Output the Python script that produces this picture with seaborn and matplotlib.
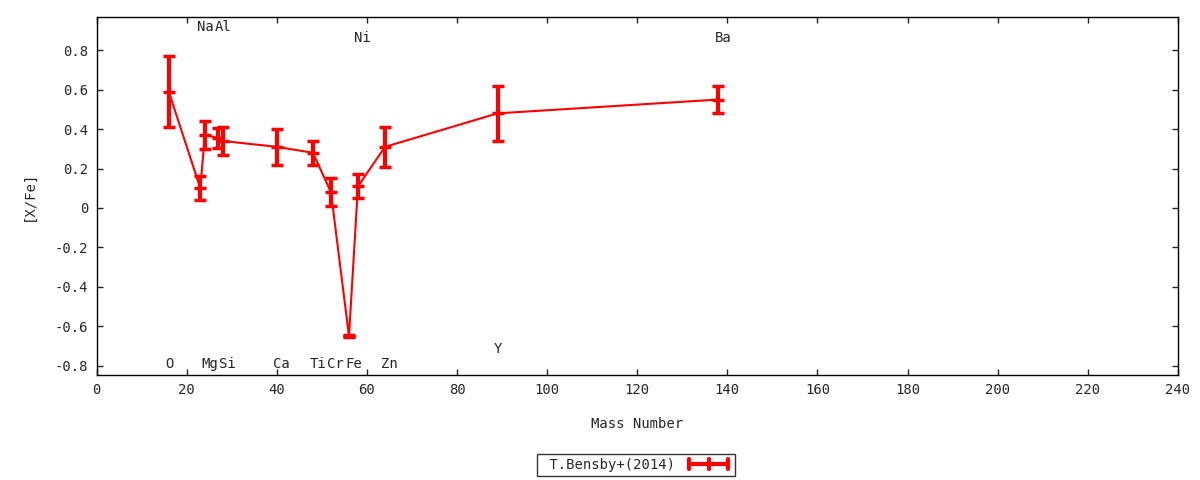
import numpy as np
import pandas as pd
import matplotlib
matplotlib.use('Agg')
import matplotlib.pyplot as plt
import seaborn as sns
from matplotlib.lines import Line2D
from matplotlib.legend_handler import HandlerBase

# data
elements = ['O', 'Na', 'Mg', 'Al', 'Si', 'Ca', 'Ti', 'Cr', 'Fe', 'Ni', 'Zn', 'Y', 'Ba']
mass_number = [16, 23, 24, 27, 28, 40, 48, 52, 56, 58, 64, 89, 138]
x_fe = [0.59, 0.10, 0.37, 0.355, 0.34, 0.31, 0.28, 0.08, -0.65, 0.11, 0.31, 0.48, 0.55]
x_fe_err = [0.18, 0.06, 0.07, 0.05, 0.07, 0.09, 0.06, 0.07, 0.005, 0.06, 0.10, 0.14, 0.07]
label_y = [-0.79, 0.918, -0.79, 0.918, -0.79, -0.79, -0.79, -0.79, -0.79, 0.862, -0.79, -0.715, 0.862]

df = pd.DataFrame({'mass': mass_number, 'xfe': x_fe, 'err': x_fe_err})


# gnuplot style legend sample: horizontal bar with caps and a centre tick
class HandlerHBar(HandlerBase):
    def create_artists(self, legend, orig_handle, xdescent, ydescent,
                       width, height, fontsize, trans):
        y = height / 2 - ydescent
        x0, x1 = -xdescent + 2, width - xdescent - 2
        xm = (x0 + x1) / 2
        h = 3.5
        arts = [Line2D([x0, x1], [y, y], color='red', lw=3),
                Line2D([x0, x0], [y - h, y + h], color='red', lw=3),
                Line2D([x1, x1], [y - h, y + h], color='red', lw=3),
                Line2D([xm, xm], [y - h, y + h], color='red', lw=3)]
        for a in arts:
            a.set_transform(trans)
        return arts


sns.set_style('ticks')
plt.rcParams['font.family'] = ['DejaVu Sans Mono']
plt.rcParams['font.size'] = 10

fig = plt.figure(figsize=(12, 4.8), dpi=100)
ax = fig.add_axes([0.0806, 0.2188, 0.9009, 0.7451])

# connecting line
sns.lineplot(data=df, x='mass', y='xfe', ax=ax, color='red', linewidth=1.5,
             sort=False, legend=False)

# error bars
ax.errorbar(df['mass'], df['xfe'], yerr=df['err'], fmt='_', color='red',
            ecolor='red', elinewidth=3, capsize=4, capthick=3,
            markersize=8, markeredgewidth=2.5)

# element labels
for el, m, ly in zip(elements, mass_number, label_y):
    ax.text(m - 0.8, ly, el, ha='left', va='center', fontsize=10)

ax.set_xlim(0, 240)
ax.set_ylim(-0.847, 0.967)
ax.set_xticks(np.arange(0, 241, 20))
ax.set_yticks(np.arange(-0.8, 0.81, 0.2))
ax.set_yticklabels(['-0.8', '-0.6', '-0.4', '-0.2', '0', '0.2', '0.4', '0.6', '0.8'])
ax.tick_params(direction='in', length=4, width=1, top=True, right=True,
               labelsize=10, pad=6)
for sp in ax.spines.values():
    sp.set_linewidth(1)
    sp.set_color('black')

ax.set_xlabel('Mass Number', fontsize=10, labelpad=14)
ax.set_ylabel('[X/Fe]', fontsize=10, labelpad=14)

proxy = Line2D([], [], color='red')
fig.legend([proxy], [' T.Bensby+(2014)'], handler_map={proxy: HandlerHBar()},
           loc='center', bbox_to_anchor=(0.53, 0.031), frameon=True,
           fancybox=False, edgecolor='black', markerfirst=False,
           fontsize=10, handlelength=3.2, borderpad=0.3, handletextpad=0.8)

fig.savefig('out.png', dpi=100)
